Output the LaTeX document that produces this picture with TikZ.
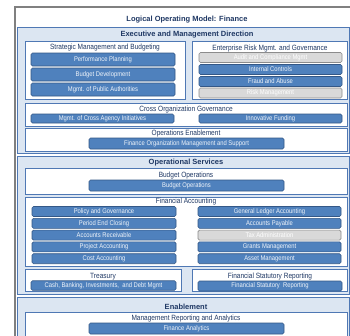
\documentclass[tikz,border=0pt]{standalone}
\usepackage{fontspec}
\setmainfont{Liberation Sans}
\newfontfamily\narrowsans[FakeStretch=0.86]{Liberation Sans}
\definecolor{navytext}{RGB}{31,56,100}
\definecolor{secfill}{RGB}{220,230,242}
\definecolor{secedge}{RGB}{79,120,180}
\definecolor{btnblue}{RGB}{79,129,189}
\definecolor{btnedge}{RGB}{52,88,135}
\definecolor{grayfill}{RGB}{217,217,217}
\definecolor{grayedge}{RGB}{140,140,140}
\definecolor{framegray}{RGB}{128,128,128}

\begin{document}
\begin{tikzpicture}[x=1pt,y=-1pt,
    section/.style={draw=secedge,fill=secfill,line width=0.8pt},
    box/.style={draw=secedge,fill=white,line width=0.8pt},
    btn/.style={draw=btnedge,fill=btnblue,rounded corners=1.5pt,line width=0.6pt,
        text=white!92!btnblue,font=\narrowsans\fontsize{6.8}{7}\selectfont,inner sep=0pt,
        minimum height=10pt},
    graybtn/.style={btn,draw=grayedge,fill=grayfill,text=white},
    boxtitle/.style={text=navytext,font=\narrowsans\fontsize{7.6}{8}\selectfont,inner sep=0pt},
    header/.style={text=navytext,font=\bfseries\fontsize{7.5}{8}\selectfont,inner sep=0pt}]
        \useasboundingbox (0,0) rectangle (350,335);
        \clip (0,0) rectangle (350,335);
        \fill[white] (0,0) rectangle (350,335);
        \draw[framegray,line width=2pt] (15,340) -- (15,7) -- (352,7);
        \draw (187,20) node[header] (T) {Logical Operating Model: Finance};

        % executive and management direction
        \draw[section] (17,27) rectangle (349,153);
        \draw (187,35) node[header] (EH) {Executive and Management Direction};
        \draw[box] (25,41) rectangle (185,99);
        \draw (105,48) node[boxtitle] (SM) {Strategic Management and Budgeting};
        \draw (103,59.5) node[btn,minimum width=144pt,minimum height=13pt] (PP) {Performance Planning};
        \draw (103,74.5) node[btn,minimum width=144pt,minimum height=13pt] (BD) {Budget Development};
        \draw (103,89.5) node[btn,minimum width=144pt,minimum height=13pt] (PA) {Mgmt. of Public Authorities};
        \draw[box] (192,41) rectangle (347,99);
        \draw (270,48.5) node[boxtitle] (ER) {Enterprise Risk Mgmt. and Governance};
        \draw (270.5,57.5) node[graybtn,minimum width=143pt] (AC) {Audit and Compliance Mgmt};
        \draw (270.5,69.5) node[btn,minimum width=143pt] (IC) {Internal Controls};
        \draw (270.5,81.5) node[btn,minimum width=143pt] (FA) {Fraud and Abuse};
        \draw (270.5,93) node[graybtn,minimum width=143pt] (RM) {Risk Management};
        \draw[box] (25,103) rectangle (347,126);
        \draw (186,110) node[boxtitle] (CO) {Cross Organization Governance};
        \draw (102.5,118.5) node[btn,minimum width=143pt,minimum height=9pt] (CI) {Mgmt. of Cross Agency Initiatives};
        \draw (270.5,118.5) node[btn,minimum width=143pt,minimum height=9pt] (IF) {Innovative Funding};
        \draw[box] (25,128) rectangle (347,151);
        \draw (186,134) node[boxtitle] (OE) {Operations Enablement};
        \draw (186.5,143.5) node[btn,minimum width=195pt,minimum height=11pt] (FO) {Finance Organization Management and Support};

        % operational services
        \draw[section] (17,156) rectangle (349,294);
        \draw (186,163) node[header] (OH) {Operational Services};
        \draw[box] (25,168) rectangle (347,194);
        \draw (186,175.5) node[boxtitle] (BO) {Budget Operations};
        \draw (186.5,185.5) node[btn,minimum width=195pt,minimum height=11pt] (BB) {Budget Operations};
        \draw[box] (25,197) rectangle (347,266);
        \draw (186,201.5) node[boxtitle] (FC) {Financial Accounting};
        \draw (104,211.5) node[btn,minimum width=144pt] (PG) {Policy and Governance};
        \draw (104,223.3) node[btn,minimum width=144pt] (PE) {Period End Closing};
        \draw (104,235.1) node[btn,minimum width=144pt] (AR) {Accounts Receivable};
        \draw (104,246.9) node[btn,minimum width=144pt] (PJ) {Project Accounting};
        \draw (104,258.7) node[btn,minimum width=144pt] (CA) {Cost Accounting};
        \draw (269.5,211.5) node[btn,minimum width=143pt] (GL) {General Ledger Accounting};
        \draw (269.5,223.3) node[btn,minimum width=143pt] (AP) {Accounts Payable};
        \draw (269.5,235.1) node[graybtn,minimum width=143pt] (TA) {Tax Administration};
        \draw (269.5,246.9) node[btn,minimum width=143pt] (GM) {Grants Management};
        \draw (269.5,258.7) node[btn,minimum width=143pt] (AM) {Asset Management};
        \draw[box] (25,269) rectangle (181,291);
        \draw (103,276.5) node[boxtitle] (TR) {Treasury};
        \draw (103.5,285.5) node[btn,minimum width=145pt,minimum height=9.5pt] (CB) {Cash, Banking, Investments,\ \ and Debt Mgmt};
        \draw[box] (192,269) rectangle (347,291);
        \draw (270,276.5) node[boxtitle] (FS) {Financial Statutory Reporting};
        \draw (270,286) node[btn,minimum width=144pt] (SR) {Financial Statutory\ \ Reporting};

        % enablement
        \draw[section] (17,297) rectangle (349,345);
        \draw (186,307) node[header] (EN) {Enablement};
        \draw[box] (25,312) rectangle (347,345);
        \draw (186,318.5) node[boxtitle] (MR) {Management Reporting and Analytics};
        \draw (186.5,328.5) node[btn,minimum width=195pt,minimum height=11pt] (AN) {Finance Analytics};
\end{tikzpicture}
\end{document}
